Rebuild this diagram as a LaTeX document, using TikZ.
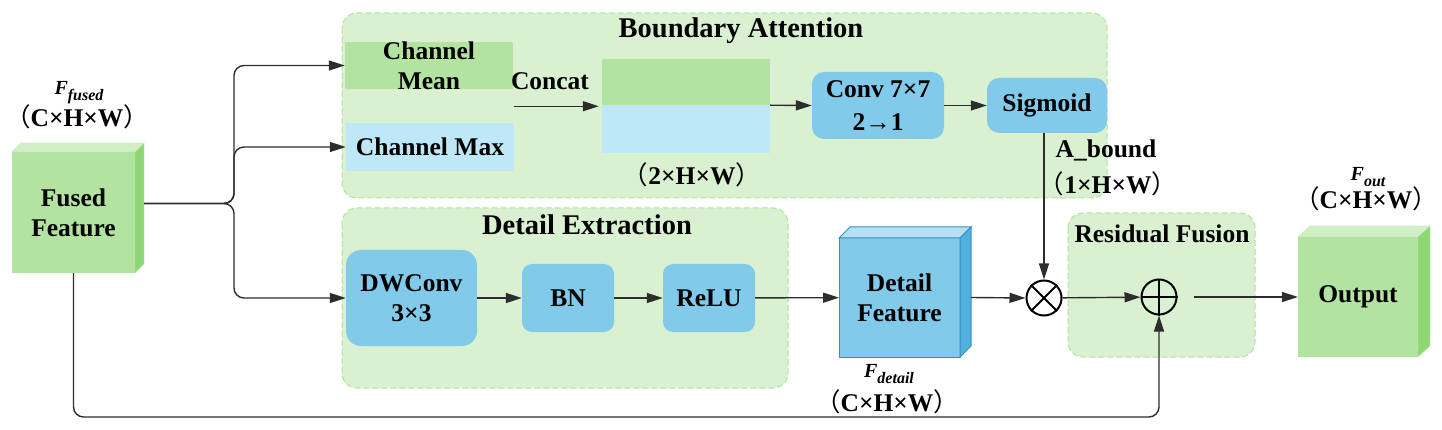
\documentclass[tikz,border=0pt]{standalone}
\usepackage{fontspec}
\setmainfont{Liberation Serif}
\newfontfamily\cjk{Noto Sans CJK SC}
\usetikzlibrary{arrows.meta,calc,positioning}
\tikzset{every node/.append style={align=center}}
\definecolor{groupfill}{RGB}{217,241,208}
\definecolor{groupline}{RGB}{178,226,158}
\definecolor{featgreen}{RGB}{179,227,160}
\definecolor{featgreentop}{RGB}{208,239,197}
\definecolor{featgreenside}{RGB}{141,215,116}
\definecolor{featblue}{RGB}{130,202,234}
\definecolor{featbluetop}{RGB}{182,224,243}
\definecolor{featblueside}{RGB}{79,178,222}
\definecolor{featblueedge}{RGB}{52,142,192}
\definecolor{lightblue}{RGB}{190,231,248}
\definecolor{linegray}{RGB}{45,45,45}
\newcommand{\dims}[1]{{\cjk\mdseries （}#1{\cjk\mdseries ）}}
\newcommand{\featname}[1]{\textit{F}\raisebox{-0.3em}{\fontsize{16}{16}\selectfont\itshape #1}}

\begin{document}
\begin{tikzpicture}[x=1pt, y=-1pt,
  txt/.style={font=\fontsize{25.5}{30}\selectfont\bfseries},
  title/.style={font=\fontsize{28.5}{32}\selectfont\bfseries, anchor=base},
  group/.style={draw=groupline, dash pattern=on 6pt off 3pt, fill=groupfill,
    rounded corners=15pt, line width=1pt},
  block/.style={txt, fill=featblue, rounded corners=12pt, inner sep=0pt},
  flat/.style={txt, inner sep=0pt},
  cube/.style={txt, inner sep=0pt, outer sep=0pt},
  arr/.style={-{Triangle[length=16pt,width=10pt]}, line width=1.4pt, linegray},
  op/.style={circle, draw, line width=2pt, minimum size=35pt, inner sep=0pt},
  dimtxt/.style={txt, anchor=base},
  namtxt/.style={font=\fontsize{20}{24}\selectfont\bfseries, anchor=base}]

  \useasboundingbox (0,0) rectangle (1442,430);

  % Groups (background)
  \draw[group] (342,13) rectangle (1107,198);
  \draw[group] (342,208) rectangle (788,388);
  \draw[group] (1068,213) rectangle (1255,357);
  \node[title] (batitle) at (741,38) {Boundary Attention};
  \node[title] (detitle) at (587,235) {Detail Extraction};
  \node[title, font=\fontsize{25.5}{30}\selectfont\bfseries] (rftitle)
    at (1162,243) {Residual Fusion};

  % === Input feature ===
  \node[cube, fill=featgreen, minimum width=123pt, minimum height=121pt]
    (fused) at (73.5,212.5) {Fused\\Feature};
  \filldraw[featgreentop, draw=featgreen!80!white]
    (fused.north west) -- ++(9,-9) -- ++(123,0) -- (fused.north east) -- cycle;
  \filldraw[featgreenside, draw=featgreen!80!white]
    (fused.north east) -- ++(9,-9) -- ++(0,121) -- (fused.south east) -- cycle;
  \node[namtxt] (fusedname) at (79,95) {\featname{fused}};
  \node[dimtxt] (fuseddim) at (77,127) {\dims{C×H×W}};

  % === Boundary attention ===
  \node[flat, fill=featgreen, minimum width=168pt, minimum height=47pt]
    (mean) at (429,65.5) {Channel\\Mean};
  \node[flat, fill=lightblue, minimum width=168pt, minimum height=48pt]
    (max) at (430,147) {Channel Max};
  \node[flat, fill=featgreen, minimum width=168pt, minimum height=46pt]
    (cattop) at (686,82) {};
  \node[flat, fill=lightblue, minimum width=168pt, minimum height=48pt,
    below=0pt of cattop] (catbot) {};
  \node[txt, anchor=base] (concat) at (550,90) {Concat};
  \node[dimtxt] (catdim) at (692,185) {\dims{2×H×W}};
  \node[block, minimum width=132pt, minimum height=67pt]
    (conv) at (878,105.5) {Conv 7×7\\[3pt]2→1};
  \node[block, minimum width=120pt, minimum height=55pt]
    (sig) at (1047,105.5) {Sigmoid};
  \node[txt, anchor=base] (abound) at (1106,158) {A\_bound};
  \node[dimtxt] (bounddim) at (1108,194) {\dims{1×H×W}};

  % === Detail extraction ===
  \node[block, rounded corners=15pt, minimum width=131pt, minimum height=96pt]
    (dwconv) at (411.5,298) {DWConv\\3×3};
  \node[block, rounded corners=10pt, minimum width=92pt, minimum height=68pt]
    (bn) at (568,298) {BN};
  \node[block, rounded corners=10pt, minimum width=92pt, minimum height=68pt]
    (relu) at (709,298) {ReLU};

  \node[cube, fill=featblue, draw=featblueedge, line width=1pt,
    minimum width=121pt, minimum height=119pt]
    (detail) at (899.5,297.5) {Detail\\Feature};
  \filldraw[featbluetop, draw=featblueedge, line width=1pt]
    (detail.north west) -- ++(11,-11) -- ++(121,0) -- (detail.north east) -- cycle;
  \filldraw[featblueside, draw=featblueedge, line width=1pt]
    (detail.north east) -- ++(11,-11) -- ++(0,119) -- (detail.south east) -- cycle;
  \node[namtxt] (detailname) at (889,377) {\featname{detail}};
  \node[dimtxt] (detaildim) at (887,411) {\dims{C×H×W}};

  % === Fusion and output ===
  \node[op] (mul) at (1044,298) {};
  \draw[line width=2pt] (mul.north west) -- (mul.south east)
    (mul.north east) -- (mul.south west);
  \node[op] (add) at (1159,297) {};
  \draw[line width=2pt] (add.north) -- (add.south) (add.west) -- (add.east);

  \node[cube, fill=featgreen, minimum width=120pt, minimum height=120pt]
    (out) at (1358,297) {Output};
  \filldraw[featgreentop, draw=featgreen!80!white]
    (out.north west) -- ++(12,-11) -- ++(120,0) -- (out.north east) -- cycle;
  \filldraw[featgreenside, draw=featgreen!80!white]
    (out.north east) -- ++(12,-11) -- ++(0,120) -- (out.south east) -- cycle;
  \node[namtxt] (outname) at (1368,181) {\featname{out}};
  \node[dimtxt] (outdim) at (1366,209) {\dims{C×H×W}};

  % === Connectors ===
  \coordinate (fusedout) at ($(fused.east)+(9,-9)$);
  \coordinate (split) at (234,203);
  \coordinate (loop) at (0,417);
  \draw[arr, rounded corners=10pt]
    (fusedout) -- (fusedout -| split) |- (mean.west);
  \draw[arr, rounded corners=10pt]
    (fusedout) -- (fusedout -| split) |- (max.west);
  \draw[arr, rounded corners=10pt]
    (fusedout) -- (fusedout -| split) |- (dwconv.west);
  \draw[arr, rounded corners=10pt]
    (fused.south) -- (fused.south |- loop) -| (add.south);

  \coordinate (catin) at ($(mean.south east)!0.5!(max.north east)$);
  \draw[arr, shorten >=3pt] (catin) -- (catin -| cattop.west);
  \draw[arr] (catbot.north east) -- (conv.west);
  \draw[arr] (conv) -- (sig);
  \draw[arr] (sig.south -| mul) -- (mul.north);

  \draw[arr] (dwconv) -- (bn);
  \draw[arr] (bn) -- (relu);
  \draw[arr] (relu) -- (detail);
  \draw[arr] ($(detail.east)+(11,0)$) -- (mul.west);
  \draw[arr] (mul) -- (add);
  \draw[arr, shorten <=16pt] (add) -- (out);

\end{tikzpicture}
\end{document}
